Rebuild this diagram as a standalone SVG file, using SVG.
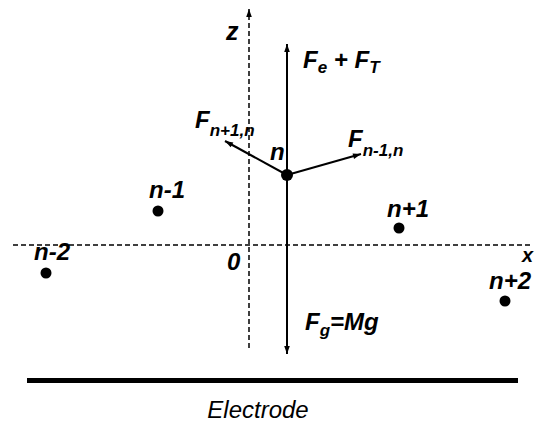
<svg xmlns="http://www.w3.org/2000/svg" width="536" height="430" viewBox="0 0 536 430">
<defs>
<style>
.ax{stroke:#000;stroke-width:1.5;stroke-dasharray:5,3;fill:none}
.fv{stroke:#000;stroke-width:2;fill:none}
.lb{font-family:"Liberation Sans",Arial,sans-serif;font-weight:bold;font-style:italic;font-size:24px;fill:#000}
.sb{font-size:17px}
.dot{fill:#000}
</style>
<marker id="ah" viewBox="0 0 10 10" refX="10" refY="5" markerWidth="10" markerHeight="8" markerUnits="userSpaceOnUse" orient="auto">
<path d="M0,1.5 L10,5 L0,8.5 Z" fill="#000"/>
</marker>
</defs>
<rect width="536" height="430" fill="#fff"/>
<g id="axes">
<line class="ax" x1="249" y1="348" x2="249" y2="9" marker-end="url(#ah)"/>
<line class="ax" x1="13" y1="245" x2="532" y2="245"/>
<text class="lb" x="226" y="40" style="font-size:25px">z</text>
<text class="lb" x="522" y="262" style="font-size:20px">x</text>
<text class="lb" x="227" y="270">0</text>
</g>
<g id="connectors">
<line class="fv" x1="287" y1="175" x2="287" y2="44" marker-end="url(#ah)"/>
<line class="fv" x1="287" y1="175" x2="287" y2="354" marker-end="url(#ah)"/>
<line class="fv" x1="287" y1="175" x2="225" y2="141" marker-end="url(#ah)"/>
<line class="fv" x1="287" y1="175" x2="361" y2="154" marker-end="url(#ah)"/>
</g>
<g id="node-n">
<circle class="dot" cx="287" cy="175" r="6"/>
<text class="lb" x="270" y="160">n</text>
</g>
<g id="node-n-1">
<circle class="dot" cx="158" cy="211" r="5.5"/>
<text class="lb" x="149" y="198">n-1</text>
</g>
<g id="node-n-2">
<circle class="dot" cx="46" cy="273" r="5.5"/>
<text class="lb" x="34" y="260">n-2</text>
</g>
<g id="node-n+1">
<circle class="dot" cx="399" cy="228" r="5.5"/>
<text class="lb" x="387" y="217">n+1</text>
</g>
<g id="node-n+2">
<circle class="dot" cx="505" cy="301" r="5.5"/>
<text class="lb" x="489" y="289">n+2</text>
</g>
<g id="labels">
<text class="lb" x="303" y="68">F<tspan class="sb" dy="5">e</tspan><tspan dy="-5"> + F</tspan><tspan class="sb" dy="5">T</tspan></text>
<text class="lb" x="195" y="128">F<tspan class="sb" dy="8">n+1,n</tspan></text>
<text class="lb" x="348" y="147">F<tspan class="sb" dy="9">n-1,n</tspan></text>
<text class="lb" x="305" y="330">F<tspan class="sb" dy="6">g</tspan><tspan dy="-6">=Mg</tspan></text>
</g>
<g id="electrode">
<rect x="27" y="378" width="491" height="5" fill="#000"/>
<text x="258" y="418" text-anchor="middle" style="font-family:'Liberation Sans',Arial,sans-serif;font-style:italic;font-size:24px">Electrode</text>
</g>
</svg>
